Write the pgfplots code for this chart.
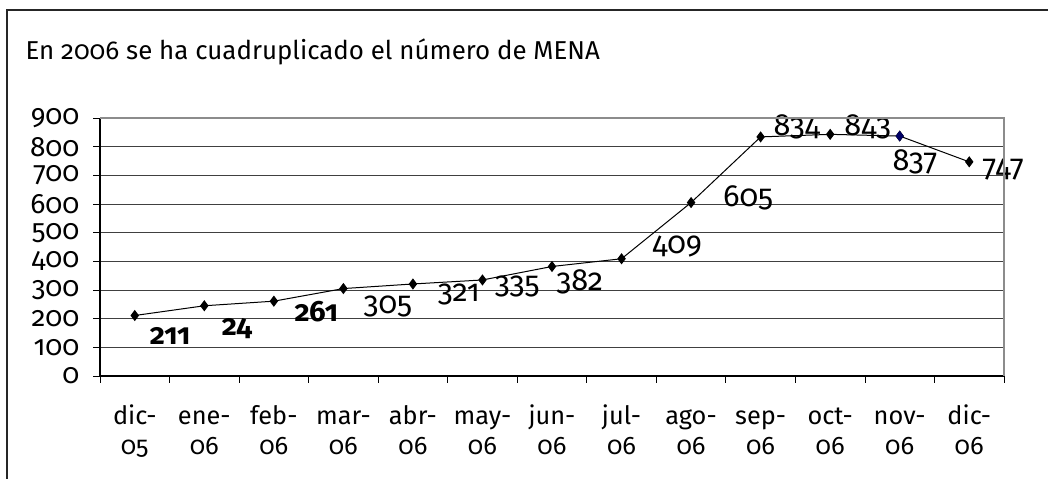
\documentclass[border=0pt]{standalone}
\usepackage{pgfplots}
\pgfplotsset{compat=1.18}
\usepackage{fontspec}
\setmainfont{Fira Sans}[Numbers=OldStyle]
\pgfplotstableread{
x y
0 211
1 245
2 261
3 305
4 321
5 335
6 382
7 409
8 605
9 834
10 843
11 837
12 747
}\datatable
\pgfplotstableread{
x y label
0.51 139 211
1.47 167 24
2.61 223 261
}\boldlabels
\pgfplotstableread{
x y label
3.64 241 305
4.66 283 321
5.50 311 335
6.40 328 382
7.80 450 409
8.82 621 605
9.52 869 834
10.54 869 843
11.22 746 837
12.49 719 747
}\reglabels
\begin{document}
\begin{tikzpicture}
\path[use as bounding box] (0,0) rectangle (786pt,358.5pt);
\draw[line width=1.5pt, black!85] (5.25pt,-1pt) -- (5.25pt,351pt) -- (787pt,351pt);
\node[anchor=base west, inner sep=0pt, font=\fontsize{19.4}{23}\selectfont] at (19pt,314pt) {En 2006 se ha cuadruplicado el número de MENA};
\begin{axis}[
  at={(75pt,76.5pt)}, anchor=south west,
  scale only axis, width=678pt, height=193.5pt,
  xmin=-0.5, xmax=12.5, ymin=0, ymax=900,
  clip=false,
  axis lines=left, axis line style={-, black, line width=0.8pt},
  ytick={0,100,...,900},
  ymajorgrids, major grid style={black!75, line width=0.6pt},
  xtick={0,...,12},
  xticklabels={{\strut dic-\\\strut 05},{\strut ene-\\\strut 06},{\strut feb-\\\strut 06},{\strut mar-\\\strut 06},{\strut abr-\\\strut 06},{\strut may-\\\strut 06},{\strut jun-\\\strut 06},{\strut jul-\\\strut 06},{\strut ago-\\\strut 06},{\strut sep-\\\strut 06},{\strut oct-\\\strut 06},{\strut nov-\\\strut 06},{\strut dic-\\\strut 06}},
  xticklabel style={align=center, anchor=north, inner sep=0pt, font=\fontsize{19}{23}\selectfont},
  xticklabel shift=14.5pt,
  yticklabel style={anchor=east, inner sep=0pt, font=\fontsize{21}{21}\selectfont},
  yticklabel shift=10pt,
  /pgf/number format/assume math mode=true,
  tick align=outside,
  major x tick style={draw=none},
  minor xtick={-0.5,0.5,...,12.5},
  minor tick length=5.25pt,
  major tick length=5.25pt,
  tick style={black, line width=0.6pt},
  after end axis/.code={
    \draw[black!45, line width=0.8pt] (rel axis cs:0,1) -- (rel axis cs:1,1) -- (rel axis cs:1,0);
  },
]
\addplot[black, line width=0.75pt, mark=diamond*, mark size=3.6pt, mark options={fill=black}] table[x=x,y=y] {\datatable};
\addplot[only marks, mark=diamond*, mark size=3.6pt, mark options={fill=blue!40!black, draw=blue!40!black}] coordinates {(11,837)};
\addplot[only marks, mark=none, nodes near coords, point meta=explicit symbolic,
  every node near coord/.append style={anchor=center, font=\fontsize{22}{24}\selectfont\bfseries}]
  table[x=x,y=y,meta=label] {\boldlabels};
\addplot[only marks, mark=none, nodes near coords, point meta=explicit symbolic,
  every node near coord/.append style={anchor=center, font=\fontsize{23}{24}\selectfont}]
  table[x=x,y=y,meta=label] {\reglabels};
\end{axis}
\end{tikzpicture}
\end{document}
